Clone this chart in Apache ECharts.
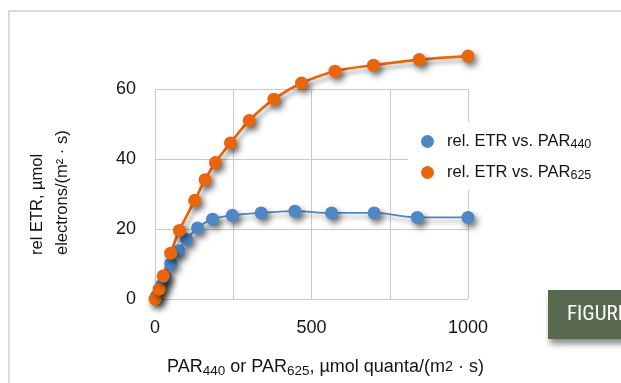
<!DOCTYPE html>
<html>
<head>
<meta charset="utf-8">
<script src="https://cdn.jsdelivr.net/npm/echarts@6/dist/echarts.min.js"></script>
<style>
  html, body { margin: 0; padding: 0; background: #fff; }
  #chart { width: 621px; height: 383px; }
</style>
</head>
<body>
<div id="chart"></div>
<script>
// data
var par440 = [5, 21, 32, 50, 75, 101, 136, 184, 247, 339, 447, 564, 700, 838, 1000];
var etr440 = [0.8, 3.9, 6.3, 10.1, 13.8, 17.0, 20.3, 22.8, 23.9, 24.6, 25.1, 24.6, 24.6, 23.3, 23.3];
var par625 = [0, 13, 26, 50, 78, 127, 160, 193, 241, 301, 380, 468, 575, 698, 844, 1000];
var etr625 = [0, 2.8, 6.6, 13.1, 19.6, 28.2, 34.1, 39.0, 44.6, 51.0, 57.1, 61.7, 65.1, 66.8, 68.4, 69.4];
var seriesNames = ['rel. ETR vs. PAR440', 'rel. ETR vs. PAR625'];
var xTickLabels = ['0', '500', '1000'];

var FONT = '"Liberation Sans", Arial, sans-serif';
var NARROW = '"Liberation Sans Narrow", "Roboto Condensed", "Arial Narrow", sans-serif';
var TXT = '#141414';
var BLUE = '#4f86c6';
var ORANGE = '#ea660c';

function pairs(xs, ys) {
  var out = [];
  for (var i = 0; i < xs.length; i++) out.push([xs[i], ys[i]]);
  return out;
}

var myChart = echarts.init(document.getElementById('chart'));

var shadow = {
  shadowColor: 'rgba(0,0,0,0.55)',
  shadowBlur: 6,
  shadowOffsetX: 3,
  shadowOffsetY: 4
};

var option = {
  backgroundColor: '#fff',
  animation: false,
  grid: {
    left: 155,
    right: 153,
    top: 89,
    bottom: 84,
    containLabel: false,
    outerBoundsMode: 'none'
  },
  legend: {
    orient: 'vertical',
    left: 408,
    top: 122,
    backgroundColor: '#fff',
    padding: [11, 10, 8, 13],
    itemGap: 13,
    icon: 'circle',
    itemWidth: 13,
    itemHeight: 13,
    data: seriesNames,
    formatter: function (name) {
      return name.replace(/(\d+)$/, '{sub|$1}');
    },
    textStyle: {
      fontFamily: FONT,
      fontSize: 16.5,
      color: TXT,
      padding: [0, 0, 0, 8],
      rich: {
        sub: { fontFamily: FONT, fontSize: 12.5, color: TXT, padding: [6, 0, 0, 0] }
      }
    }
  },
  xAxis: {
    type: 'value',
    min: 0,
    max: 1000,
    interval: 250,
    axisLine: { show: false },
    axisTick: { show: false },
    axisLabel: {
      margin: 20,
      fontFamily: FONT,
      fontSize: 18,
      color: TXT,
      formatter: function (v) {
        var s = String(v);
        return xTickLabels.indexOf(s) >= 0 ? s : '';
      }
    },
    splitLine: { show: true, lineStyle: { color: '#c9c9c9', width: 1 } },
    name: 'PAR{sub|440} or PAR{sub|625}, µmol quanta/(m{sm|2} · s)',
    nameLocation: 'middle',
    nameGap: 58,
    nameTextStyle: {
      fontFamily: FONT,
      fontSize: 18,
      color: TXT,
      padding: [0, 0, 0, 28],
      rich: {
        sub: { fontFamily: FONT, fontSize: 13.5, color: TXT, padding: [7, 0, 0, 0] },
        sm: { fontFamily: FONT, fontSize: 14.5, color: TXT, padding: [0, 0, 2, 0] }
      }
    }
  },
  yAxis: {
    type: 'value',
    min: 0,
    max: 60,
    interval: 20,
    axisLine: { show: false },
    axisTick: { show: false },
    axisLabel: {
      margin: 19,
      fontFamily: FONT,
      fontSize: 18,
      color: TXT
    },
    splitLine: { show: true, lineStyle: { color: '#c9c9c9', width: 1 } }
  },
  graphic: [
    {
      type: 'rect',
      z: -10,
      shape: { x: 9, y: 11, width: 700, height: 500 },
      style: { fill: 'none', stroke: '#dadada', lineWidth: 2 }
    },
    {
      type: 'rect',
      z: 10,
      shape: { x: 548, y: 290, width: 90, height: 49 },
      style: {
        fill: '#58694f',
        shadowColor: 'rgba(0,0,0,0.45)',
        shadowBlur: 6,
        shadowOffsetX: 2,
        shadowOffsetY: 5
      }
    },
    {
      type: 'text',
      z: 11,
      x: 567,
      y: 315,
      style: {
        text: 'FIGURE',
        fontFamily: NARROW,
        fontSize: 21,
        fill: '#fff',
        textAlign: 'left',
        textVerticalAlign: 'middle'
      }
    },
    {
      type: 'text',
      x: 37,
      y: 255,
      rotation: Math.PI / 2,
      style: {
        text: 'rel ETR, µmol',
        fontFamily: FONT,
        fontSize: 16.5,
        fill: TXT,
        textAlign: 'left',
        textVerticalAlign: 'middle'
      }
    },
    {
      type: 'text',
      x: 62,
      y: 255,
      rotation: Math.PI / 2,
      style: {
        text: 'electrons/(m² · s)',
        fontFamily: FONT,
        fontSize: 16.5,
        fill: TXT,
        textAlign: 'left',
        textVerticalAlign: 'middle'
      }
    }
  ],
  series: [
    {
      name: seriesNames[0],
      type: 'line',
      data: pairs(par440, etr440),
      smooth: 0.35,
      clip: false,
      symbol: 'circle',
      symbolSize: 13,
      color: BLUE,
      lineStyle: Object.assign({ color: BLUE, width: 1.8 }, shadow, { shadowBlur: 4, shadowColor: 'rgba(0,0,0,0.35)' }),
      itemStyle: Object.assign({ color: BLUE, borderWidth: 0 }, shadow)
    },
    {
      name: seriesNames[1],
      type: 'line',
      data: pairs(par625, etr625),
      smooth: 0.35,
      clip: false,
      symbol: 'circle',
      symbolSize: 13,
      color: ORANGE,
      lineStyle: Object.assign({ color: ORANGE, width: 2.6 }, shadow, { shadowBlur: 4, shadowColor: 'rgba(0,0,0,0.35)' }),
      itemStyle: Object.assign({ color: ORANGE, borderWidth: 0 }, shadow)
    }
  ]
};

myChart.setOption(option);
</script>
</body>
</html>
